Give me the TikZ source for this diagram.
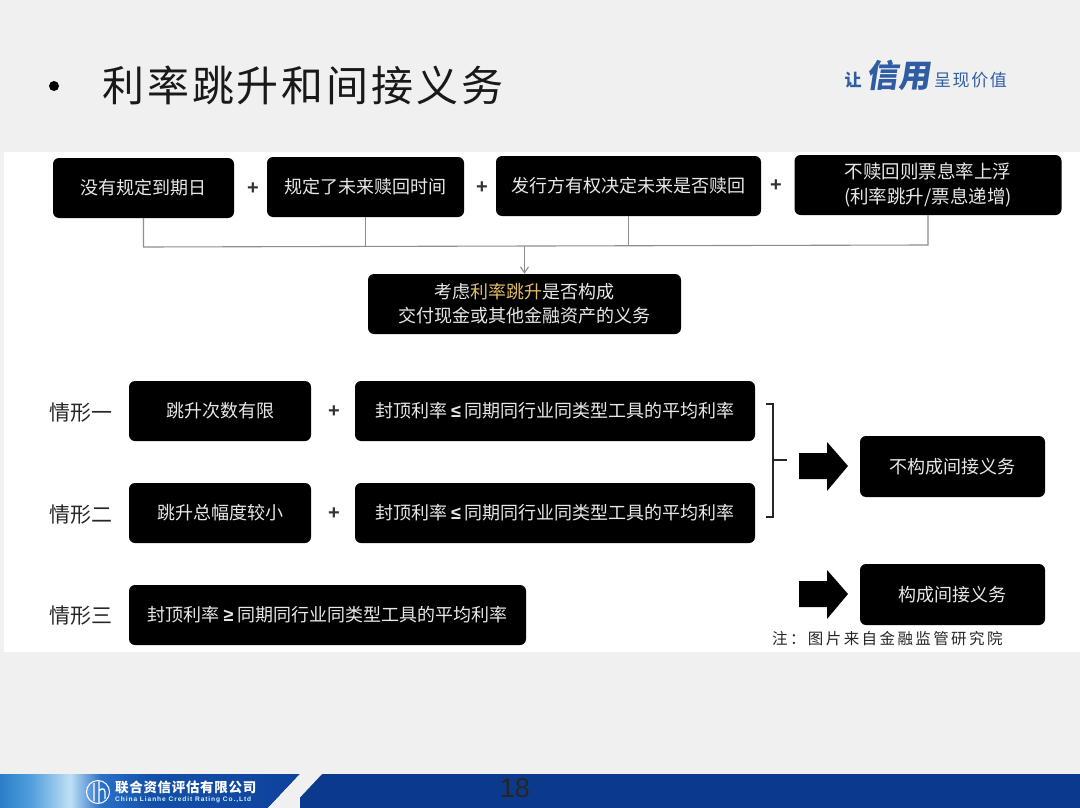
\documentclass[tikz,border=0pt]{standalone}
\usepackage{fontspec}
\setmainfont{Noto Sans CJK SC}
\newfontfamily\latinsans{Liberation Sans}
\newfontfamily\spacedtitle[LetterSpace=7]{Noto Sans CJK SC}
\newfontfamily\spacednote[LetterSpace=15.5]{Noto Sans CJK SC}
\newfontfamily\spacedlogo[LetterSpace=9]{Noto Sans CJK SC}
\newfontfamily\spacedco[LetterSpace=5]{Noto Sans CJK SC}
\newfontfamily\spaceden[LetterSpace=14]{Liberation Sans}
\usetikzlibrary{arrows.meta}
\newcommand{\fsz}[1]{\fontsize{#1}{#1}\selectfont}
\newcommand{\narrowsym}[1]{{\latinsans\bfseries #1}}
\definecolor{pagegrey}{HTML}{F0F0F0}
\definecolor{linegrey}{HTML}{8E8E8E}
\definecolor{boxtext}{HTML}{E8E8E8}
\definecolor{gold}{HTML}{E2BC68}
\definecolor{logoblue}{HTML}{2F5DA3}
\definecolor{navy}{HTML}{0B3A8C}
\definecolor{fa}{HTML}{2A7FC8}
\definecolor{fb}{HTML}{4F9DDC}
\definecolor{fc}{HTML}{BFE0F5}
\definecolor{fd}{HTML}{2A72C8}
\definecolor{fe}{HTML}{1450A8}
\definecolor{ff}{HTML}{0E429C}
\pgfdeclarehorizontalshading{footerleft}{100bp}{
  color(0bp)=(fa);
  color(25bp)=(fa);
  color(30bp)=(fb);
  color(36.7bp)=(fc);
  color(41.7bp)=(fd);
  color(50bp)=(fe);
  color(75bp)=(ff);
  color(100bp)=(ff)}
\tikzset{
  x=1pt,y=-1pt,
  blackbox/.style={fill=black,rounded corners=6pt,inner sep=0pt,text=boxtext,align=center,font=\fsz{18}},
  plussign/.style={font=\latinsans\bfseries\fsz{20},text=black!80,inner sep=0pt},
  caselabel/.style={font=\fsz{21},text=black!85,inner sep=0pt},
  joinline/.style={draw=linegrey,line width=1.1pt},
  bracketline/.style={draw=black!85,line width=1.2pt},
  bigarrow/.style={fill=black},
}
\begin{document}
\begin{tikzpicture}
\useasboundingbox (0,0) rectangle (1080,808);
\fill[pagegrey] (0,0) rectangle (1080,808);
\fill[white] (4,152) rectangle (1080,652);
% title
\fill[black] (54,86) circle (5);
\node[anchor=west,inner sep=0pt,text=black!90,font=\spacedtitle\fsz{42}] (title) at (102,85) {利率跳升和间接义务};
% slogan
\node[inner sep=0pt,text=logoblue,font=\bfseries\fsz{17}] (rang) at (853,80) {让};
\node[inner sep=0pt,text=logoblue,font=\bfseries\fsz{32},xslant=0.15] (xinyong) at (900,75) {信用};
\node[anchor=west,inner sep=0pt,text=logoblue,font=\spacedlogo\fsz{17}] (chengxian) at (934,80) {呈现价值};
% top row
\node[blackbox,minimum width=181pt,minimum height=60pt] (a) at (143.5,188) {没有规定到期日};
\node[blackbox,minimum width=197pt,minimum height=60pt] (b) at (365.5,187) {规定了未来赎回时间};
\node[blackbox,minimum width=265pt,minimum height=60pt] (c) at (628.5,186) {发行方有权决定未来是否赎回};
\node[blackbox,minimum width=267pt,minimum height=60pt,font=\fsz{18.5}] (d) at (928,185) {不赎回则票息率上浮\\[6pt](利率跳升/票息递增)};
\node[plussign] (p1) at (253,189) {+};
\node[plussign] (p2) at (482,188) {+};
\node[plussign] (p3) at (776,186) {+};
\node[blackbox,minimum width=313pt,minimum height=60pt] (e) at (524.5,304) {考虑\textcolor{gold}{利率跳升}是否构成\\[6pt]交付现金或其他金融资产的义务};
% joining lines
\coordinate (ja) at (143.5,247);
\coordinate (jb) at (365.5,246.5);
\coordinate (jm) at (524.5,246);
\coordinate (jc) at (628.5,245.5);
\coordinate (jd) at (928,245);
\draw[joinline] (a.south) -- (ja) -- (jd) -- (d.south);
\draw[joinline] (b.south) -- (jb);
\draw[joinline] (c.south) -- (jc);
\draw[joinline,-{Straight Barb[length=6pt,width=8pt]}] (jm) -- (e.north);
% cases
\node[caselabel] (c1) at (81,412.5) {情形一};
\node[caselabel] (c2) at (81,514.5) {情形二};
\node[caselabel] (c3) at (81,616) {情形三};
\node[blackbox,minimum width=182pt,minimum height=60pt] (r1a) at (220,411) {跳升次数有限};
\node[plussign] (p4) at (334,412) {+};
\node[blackbox,minimum width=400pt,minimum height=60pt] (r1b) at (555,411) {封顶利率 \narrowsym{≤} 同期同行业同类型工具的平均利率};
\node[blackbox,minimum width=182pt,minimum height=60pt] (r2a) at (220,513) {跳升总幅度较小};
\node[plussign] (p5) at (334,514) {+};
\node[blackbox,minimum width=400pt,minimum height=60pt] (r2b) at (555,513) {封顶利率 \narrowsym{≤} 同期同行业同类型工具的平均利率};
\node[blackbox,minimum width=397pt,minimum height=60pt] (r3) at (327.5,615) {封顶利率 \narrowsym{≥} 同期同行业同类型工具的平均利率};
% bracket
\coordinate (bt) at (766,404);
\coordinate (bb) at (766,517);
\coordinate (bm) at (787,460);
\draw[bracketline] (bt) -- (773,404) -- (773,517) -- (bb);
\draw[bracketline] (773,460) -- (bm);
% big arrows
\fill[bigarrow] (799,453) -- (827,453) -- (827,442) -- (848,466) -- (827,491) -- (827,479) -- (799,479) -- cycle;
\fill[bigarrow] (799,581) -- (827,581) -- (827,570) -- (848,594) -- (827,619) -- (827,607) -- (799,607) -- cycle;
% results
\node[blackbox,minimum width=185pt,minimum height=61pt] (f) at (952.5,466.5) {不构成间接义务};
\node[blackbox,minimum width=185pt,minimum height=61pt] (g) at (952.5,594.5) {构成间接义务};
\node[anchor=west,inner sep=0pt,text=black!85,font=\spacednote\fsz{15.5}] (note) at (772,639) {注：图片来自金融监管研究院};
% footer
\fill[navy] (300,774) rectangle (1080,808);
\shade[shading=footerleft] (0,774) -- (300,774) -- (268,808) -- (0,808) -- cycle;
\fill[pagegrey] (300,774) -- (322,774) -- (290,808) -- (268,808) -- cycle;
\draw[white,line width=1pt] (98,792) circle (11.5);
\draw[white,line width=1.3pt] (94,783) -- (94,801) (99,780.5) -- (99,803) (99,791) .. controls (101,788) and (105,788) .. (105,792) -- (105,799);
\node[anchor=west,inner sep=0pt,text=white,font=\spacedco\bfseries\fsz{13.5}] (company) at (115,787) {联合资信评估有限公司};
\node[anchor=west,inner sep=0pt,text=white!85!cyan,font=\spaceden\bfseries\fsz{6.6}] (companyen) at (115,800) {China Lianhe Credit Rating Co.,Ltd};
\node[inner sep=0pt,text=black!85,font=\latinsans\fsz{27}] (pageno) at (515,788.5) {18};
\end{tikzpicture}
\end{document}
